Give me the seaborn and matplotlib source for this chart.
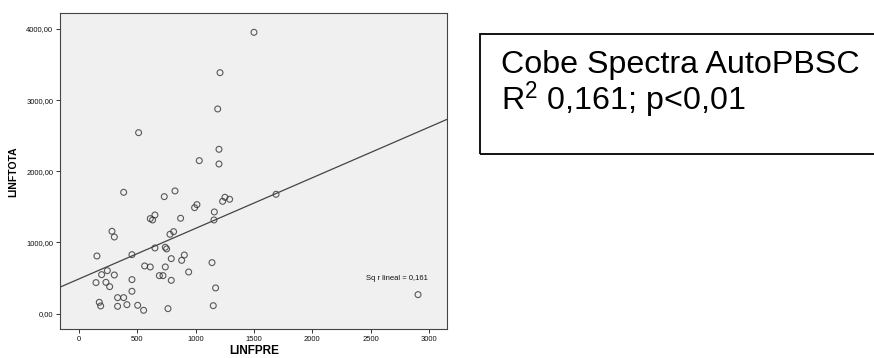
import matplotlib
matplotlib.use("Agg")
import matplotlib.pyplot as plt
import seaborn as sns
import pandas as pd
from matplotlib.patches import Rectangle
from matplotlib.ticker import FuncFormatter

linfpre = [1500, 1209, 1189, 511, 1200, 1200, 1031, 383, 731, 823, 1011, 991, 871, 651, 611, 631,
           1160, 1157, 1231, 1251, 1291, 1689, 283, 303, 811, 780, 651, 740, 751, 154, 454, 903,
           880, 791, 1140, 243, 194, 303, 563, 611, 740, 689, 720, 940, 146, 231, 263, 454, 791,
           454, 1171, 331, 383, 174, 186, 331, 411, 503, 554, 763, 1151, 2906]
linftota = [3953, 3386, 2876, 2543, 2309, 2103, 2150, 1705, 1644, 1724, 1532, 1489, 1340, 1386, 1335, 1316,
            1429, 1316, 1578, 1635, 1607, 1677, 1157, 1077, 1152, 1115, 923, 932, 909, 810, 829, 824,
            749, 773, 717, 604, 548, 543, 670, 656, 656, 534, 534, 585, 436, 440, 379, 478, 468,
            314, 361, 225, 225, 159, 108, 103, 126, 117, 47, 70, 112, 267]
x_ticks = [0, 500, 1000, 1500, 2000, 2500, 3000]
y_ticks = [0, 1000, 2000, 3000, 4000]
box_title = "Cobe Spectra AutoPBSC"
box_stat = "R$^2$ 0,161; p<0,01"
fit_label = "Sq r lineal = 0,161"

df = pd.DataFrame({"LINFPRE": linfpre, "LINFTOTA": linftota})

sns.set_theme(style="white")
plt.rcParams["font.family"] = ["Liberation Sans", "DejaVu Sans"]
plt.rcParams["mathtext.fontset"] = "custom"
plt.rcParams["mathtext.rm"] = "Liberation Sans"
plt.rcParams["mathtext.it"] = "Liberation Sans"
plt.rcParams["text.color"] = "black"
plt.rcParams["axes.labelcolor"] = "black"

fig = plt.figure(figsize=(8.74, 3.58), dpi=100)
ax = fig.add_axes([0.069, 0.0802, 0.4428, 0.8826])
ax.set_facecolor("#f0f0f0")
ax.set_xlim(-160, 3157)
ax.set_ylim(-220, 4220)

sns.regplot(data=df, x="LINFPRE", y="LINFTOTA", ax=ax, ci=None, truncate=False,
            scatter_kws=dict(s=18, facecolors="none", edgecolors="#333333", linewidths=0.8),
            line_kws=dict(color="#444444", linewidth=0.9))

ax.set_xticks(x_ticks)
ax.set_yticks(y_ticks)
ax.yaxis.set_major_formatter(FuncFormatter(lambda v, p: f"{v:.2f}".replace(".", ",")))
ax.tick_params(axis="both", labelsize=5.5, length=3, width=0.7, color="#333333",
               direction="out", labelcolor="#111111", pad=2)
ax.tick_params(left=True, bottom=True)
for s in ax.spines.values():
    s.set_color("#444444")
    s.set_linewidth(0.8)
ax.set_xlabel("LINFPRE", fontsize=8.5, fontweight="bold", labelpad=1)
ax.set_ylabel("LINFTOTA", fontsize=7.5, fontweight="bold", labelpad=6)
ax.text(2723, 492, fit_label, fontsize=5.5, ha="center", va="center", color="#111111")

fig.patches.append(Rectangle((480 / 874, 1 - 154 / 358), 0.6, 120 / 358,
                             transform=fig.transFigure, fill=False, edgecolor="black",
                             linewidth=1.3))
fig.text(501 / 874, 1 - 73 / 358, box_title, fontsize=23.2, ha="left", va="baseline")
fig.text(501 / 874, 1 - 110 / 358, box_stat, fontsize=23.2, ha="left", va="baseline")

fig.savefig("out.png", dpi=100)
